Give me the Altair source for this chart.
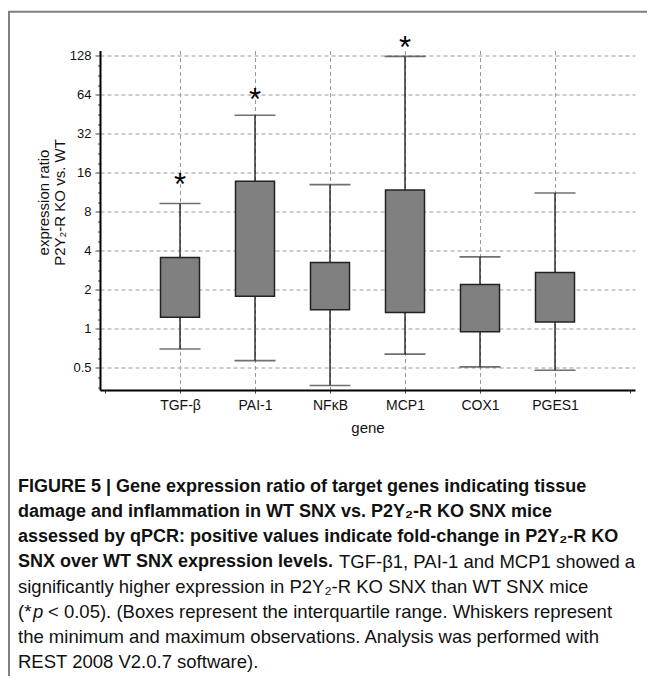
import altair as alt
import pandas as pd

genes = ["TGF-β", "PAI-1", "NFκB", "MCP1", "COX1", "PGES1"]
w_min = [0.70, 0.57, 0.366, 0.64, 0.51, 0.48]
q1 = [1.23, 1.79, 1.41, 1.34, 0.95, 1.13]
q3 = [3.56, 13.8, 3.26, 11.8, 2.2, 2.73]
w_max = [9.3, 44.6, 13.0, 127, 3.6, 11.2]
star_genes = ["TGF-β", "PAI-1", "MCP1"]
star_y = [14.9, 67.8, 170]

y_ticks = [2 ** (k / 4) for k in range(-6, 29)]
x_ticks = [i / 4 for i in range(-4, 25)]

df = pd.DataFrame({"gene": genes, "idx": list(range(len(genes))),
                   "lo": w_min, "q1": q1, "q3": q3, "hi": w_max})
stars = pd.DataFrame({"idx": [genes.index(g) for g in star_genes], "v": star_y})

W, H = 535, 339.5
FONT = "Liberation Sans"

y_major = "abs(log(datum.value)/LN2 - round(log(datum.value)/LN2)) < 0.01"
x_major = "datum.value >= 0 && datum.value <= 5 && abs(datum.value - round(datum.value)) < 0.001"
gene_arr = "[" + ",".join("'" + g + "'" for g in genes) + "]"

xs = alt.Scale(domain=[-1, 6], nice=False, zero=False)
ys = alt.Scale(type="log", base=2, domain=[0.338, 141], nice=False)

x_axis = alt.Axis(
    values=x_ticks, title="gene", titleFontSize=15, titleFontWeight="normal",
    titleFont=FONT, titlePadding=8, titleColor="#111",
    labelExpr=f"({x_major}) ? {gene_arr}[round(datum.value)] : ''",
    labelFontSize=14, labelFont=FONT, labelPadding=5, labelColor="#111",
    tickSize=3, tickColor="#444", domainColor="black", domainWidth=2,
    grid=True, gridDash=[4, 3], gridColor="#9a9a9a",
    gridOpacity={"condition": {"test": x_major, "value": 1}, "value": 0},
    labelOverlap=False,
)
y_axis = alt.Axis(
    values=y_ticks, title=["expression ratio", "P2Y₂-R KO vs. WT"],
    titleFontSize=15, titleFontWeight="normal", titleFont=FONT, titleColor="#111",
    titleX=-57, titleY=151.5, titleAngle=-90, titleBaseline="middle",
    titleAlign="center", titleLineHeight=16,
    labelExpr=f"({y_major}) ? '' + round(datum.value*100)/100 : ''",
    labelFontSize=13, labelFont=FONT, labelPadding=4, labelColor="#111",
    tickSize={"condition": {"test": y_major, "value": 5}, "value": 2.5},
    tickColor="#444", domainColor="black", domainWidth=2,
    grid=True, gridDash=[4, 3], gridColor="#9a9a9a",
    gridOpacity={"condition": {"test": y_major, "value": 1}, "value": 0},
    labelOverlap=False,
)

base = alt.Chart(df)

axes_layer = base.mark_point(opacity=0).encode(
    x=alt.X("idx:Q", scale=xs, axis=x_axis),
    y=alt.Y("q1:Q", scale=ys, axis=y_axis),
)

whisk = base.mark_rule(color="#222", strokeWidth=1.4).encode(
    x=alt.X("idx:Q", scale=xs), y=alt.Y("lo:Q", scale=ys), y2="hi:Q")
cap_hi = base.mark_tick(orient="horizontal", size=41, thickness=1.6, color="#333").encode(
    x=alt.X("idx:Q", scale=xs), y=alt.Y("hi:Q", scale=ys))
cap_lo = base.mark_tick(orient="horizontal", size=41, thickness=1.6, color="#333").encode(
    x=alt.X("idx:Q", scale=xs), y=alt.Y("lo:Q", scale=ys))
boxes = base.mark_bar(size=39, fill="#808080", stroke="#222", strokeWidth=1.5).encode(
    x=alt.X("idx:Q", scale=xs), y=alt.Y("q1:Q", scale=ys), y2="q3:Q")
star_layer = alt.Chart(stars).mark_text(
    text="*", fontSize=31, font=FONT, baseline="alphabetic", dy=18, color="black"
).encode(x=alt.X("idx:Q", scale=xs), y=alt.Y("v:Q", scale=ys))

one = alt.Data(values=[{}])

frame_left = alt.Chart(one).mark_rule(color="#808080", strokeWidth=2).encode(
    x=alt.value(-91), y=alt.value(-39), y2=alt.value(635))
frame_top = alt.Chart(one).mark_rule(color="#808080", strokeWidth=2).encode(
    x=alt.value(-92), x2=alt.value(555), y=alt.value(-38.8))

def cap(text, x, line, bold=False, italic=False):
    y = 487 + 25 * line - 50.5
    return alt.Chart(one).mark_text(
        text=text, align="left", baseline="middle", font=FONT,
        fontSize=18 if bold else 18.5, fontWeight="bold" if bold else "normal",
        fontStyle="italic" if italic else "normal", color="#111",
    ).encode(x=alt.value(x - 100), y=alt.value(y))

captions = [
    cap("FIGURE 5 | Gene expression ratio of target genes indicating tissue", 18, 0, True),
    cap("damage and inflammation in WT SNX vs. P2Y₂-R KO SNX mice", 18, 1, True),
    cap("assessed by qPCR: positive values indicate fold-change in P2Y₂-R KO", 18, 2, True),
    cap("SNX over WT SNX expression levels.", 18, 3, True),
    cap("TGF-β1, PAI-1 and MCP1 showed a", 339, 3),
    cap("significantly higher expression in P2Y₂-R KO SNX than WT SNX mice", 18, 4),
    cap("(*", 18, 5),
    cap("p", 33, 5, italic=True),
    cap("< 0.05). (Boxes represent the interquartile range. Whiskers represent", 48, 5),
    cap("the minimum and maximum observations. Analysis was performed with", 18, 6),
    cap("REST 2008 V2.0.7 software).", 18, 7),
]

chart = alt.layer(
    axes_layer, whisk, cap_lo, cap_hi, boxes, star_layer, frame_left, frame_top, *captions
).properties(
    width=W, height=H,
    autosize=alt.AutoSizeParams(type="none"),
    padding={"left": 92, "top": 42.5, "right": 12, "bottom": 286},
).configure_view(stroke=None)

chart.save("out.html", embed_options={"renderer": "svg", "actions": False})
